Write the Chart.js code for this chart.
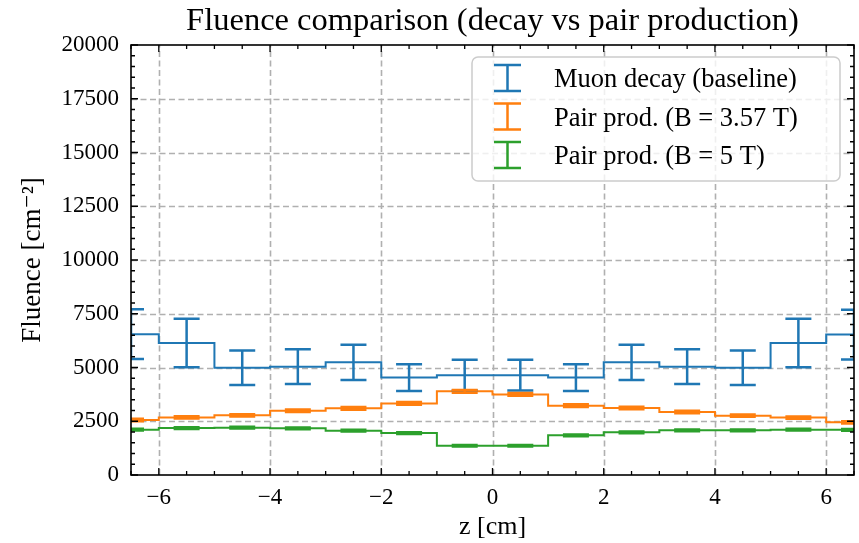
<!DOCTYPE html>
<html><head><meta charset="utf-8">
<script src="https://cdn.jsdelivr.net/npm/chart.js@4.4.1/dist/chart.umd.min.js"></script>
<style>html,body{margin:0;padding:0;background:#fff;}#c{display:block;}</style>
</head><body>
<canvas id="c" width="859" height="543"></canvas>
<script>
// ---- data ----
const binCenters = [-6.5,-5.5,-4.5,-3.5,-2.5,-1.5,-0.5,0.5,1.5,2.5,3.5,4.5,5.5,6.5];
const decay      = [6550,6140,4990,5040,5240,4530,4640,4640,4530,5240,5040,4990,6140,6530];
const decayErr   = [1160,1130,800,810,820,620,715,715,620,820,810,800,1130,1160];
const pair357    = [2560,2680,2775,2990,3100,3330,3890,3750,3225,3115,2930,2760,2670,2450];
const pair357Err = [55,55,55,60,60,60,65,65,60,60,60,55,55,55];
const pair5      = [2110,2185,2200,2170,2060,1950,1365,1365,1845,1985,2080,2080,2110,2100];
const pair5Err   = [40,40,40,40,40,40,35,35,40,40,40,40,40,40];
const seriesNames = ['Muon decay (baseline)','Pair prod. (B = 3.57 T)','Pair prod. (B = 5 T)'];
const xTicks = [-6,-4,-2,0,2,4,6];
const yTicks = [0,2500,5000,7500,10000,12500,15000,17500,20000];
const xMinorStep = 0.5, yMinorStep = 500;

const colors = ['#1f77b4','#ff7f0e','#2ca02c'];
const FONT = "'Liberation Serif', 'DejaVu Serif', serif";
const vals = [decay, pair357, pair5];
const errs = [decayErr, pair357Err, pair5Err];

const datasets = vals.map((v,k)=>({
  label: seriesNames[k],
  data: binCenters.map((x,i)=>({x:x,y:v[i]})),
  stepped: 'middle',
  borderColor: colors[k],
  borderWidth: 2,
  pointRadius: 0,
  fill: false,
  errs: errs[k]
}));

const fmtX = v => v < 0 ? '\u2212' + Math.abs(v) : String(v);

const gridPlugin = {
  id: 'gridPlugin',
  beforeDatasetsDraw(chart){
    const {ctx, chartArea:a, scales:{x,y}} = chart;
    ctx.save();
    ctx.strokeStyle = '#b0b0b0'; ctx.lineWidth = 1.6; ctx.setLineDash([6,3.5]);
    xTicks.forEach(t=>{const p=Math.round(x.getPixelForValue(t))+0.5;ctx.beginPath();ctx.moveTo(p,a.bottom);ctx.lineTo(p,a.top);ctx.stroke();});
    yTicks.forEach(t=>{const p=Math.round(y.getPixelForValue(t))+0.5;if(p<a.top+1||p>a.bottom-1)return;ctx.beginPath();ctx.moveTo(a.left,p);ctx.lineTo(a.right,p);ctx.stroke();});
    ctx.restore();
  }
};

const errPlugin = {
  id: 'errPlugin',
  afterDatasetsDraw(chart){
    const {ctx, chartArea:a, scales:{x,y}} = chart;
    ctx.save();
    ctx.beginPath(); ctx.rect(a.left,a.top,a.right-a.left,a.bottom-a.top); ctx.clip();
    chart.data.datasets.forEach(ds=>{
      ctx.strokeStyle = ds.borderColor; ctx.lineWidth = 2.5;
      ds.data.forEach((pt,i)=>{
        const px = x.getPixelForValue(pt.x);
        const t = y.getPixelForValue(pt.y + ds.errs[i]);
        const b = y.getPixelForValue(pt.y - ds.errs[i]);
        ctx.beginPath();
        ctx.moveTo(px,t); ctx.lineTo(px,b);
        ctx.moveTo(px-13,t); ctx.lineTo(px+13,t);
        ctx.moveTo(px-13,b); ctx.lineTo(px+13,b);
        ctx.stroke();
      });
    });
    ctx.restore();
  }
};

const framePlugin = {
  id: 'framePlugin',
  afterDraw(chart){
    const {ctx, chartArea:a, scales:{x,y}} = chart;
    ctx.save();
    ctx.strokeStyle = '#000'; ctx.lineWidth = 1.3;
    const xmin=x.min,xmax=x.max,ymin=y.min,ymax=y.max;
    ctx.beginPath();
    for(let v=Math.ceil(xmin/xMinorStep)*xMinorStep; v<=xmax+1e-9; v+=xMinorStep){
      const p = x.getPixelForValue(v);
      const major = xTicks.some(t=>Math.abs(t-v)<1e-6);
      const L = major?7:4;
      ctx.moveTo(p,a.bottom); ctx.lineTo(p,a.bottom-L);
      ctx.moveTo(p,a.top); ctx.lineTo(p,a.top+L);
    }
    for(let v=Math.ceil(ymin/yMinorStep)*yMinorStep; v<=ymax+1e-9; v+=yMinorStep){
      const p = y.getPixelForValue(v);
      const major = yTicks.some(t=>Math.abs(t-v)<1e-6);
      const L = major?7:4;
      ctx.moveTo(a.left,p); ctx.lineTo(a.left+L,p);
      ctx.moveTo(a.right,p); ctx.lineTo(a.right-L,p);
    }
    ctx.stroke();
    ctx.lineWidth = 1.6;
    ctx.strokeRect(a.left,a.top,a.right-a.left,a.bottom-a.top);
    // legend
    const lx=472, ly=57, lw=368, lh=124, r=6;
    ctx.beginPath();
    ctx.moveTo(lx+r,ly); ctx.arcTo(lx+lw,ly,lx+lw,ly+lh,r); ctx.arcTo(lx+lw,ly+lh,lx,ly+lh,r);
    ctx.arcTo(lx,ly+lh,lx,ly,r); ctx.arcTo(lx,ly,lx+lw,ly,r); ctx.closePath();
    ctx.fillStyle='rgba(255,255,255,0.8)'; ctx.fill();
    ctx.strokeStyle='#cccccc'; ctx.lineWidth=1.5; ctx.stroke();
    ctx.font = '26.5px ' + FONT; ctx.textBaseline='alphabetic'; ctx.textAlign='left';
    chart.data.datasets.forEach((ds,k)=>{
      const cy = 78 + k*38.5;
      ctx.strokeStyle = ds.borderColor; ctx.lineWidth = 2.5;
      ctx.beginPath();
      ctx.moveTo(507.5,cy-13); ctx.lineTo(507.5,cy+13);
      ctx.moveTo(494,cy-13); ctx.lineTo(521,cy-13);
      ctx.moveTo(494,cy+13); ctx.lineTo(521,cy+13);
      ctx.stroke();
      ctx.fillStyle='#000';
      ctx.fillText(ds.label, 554, cy+9);
    });
    ctx.restore();
  }
};

new Chart(document.getElementById('c'), {
  type: 'line',
  data: { datasets },
  options: {
    responsive: false, animation: false, devicePixelRatio: 1,
    layout: { padding: { left: 0, right: 5, top: 0, bottom: 0 } },
    plugins: {
      legend: { display: false },
      tooltip: { enabled: false },
      title: { display: true, fullSize: false, text: 'Fluence comparison (decay vs pair production)',
        color: '#000', font: { family: FONT, size: 32.5, weight: 'normal', lineHeight: 1.2 },
        padding: { top: 2, bottom: 4 } }
    },
    scales: {
      x: { type: 'linear', min: -6.5, max: 6.5,
        grid: { display: false, drawTicks: false }, border: { display: false },
        afterBuildTicks: s => { s.ticks = xTicks.map(v=>({value:v})); },
        afterFit: s => { s.height = 68; },
        ticks: { color: '#000', font: { family: FONT, size: 23 }, padding: 9, maxRotation: 0,
          callback: v => fmtX(v) },
        title: { display: true, text: 'z [cm]', color: '#000',
          font: { family: FONT, size: 26, lineHeight: 1.2 }, padding: { top: 0, bottom: 0 } }
      },
      y: { type: 'linear', min: 0, max: 20000,
        grid: { display: false, drawTicks: false }, border: { display: false },
        afterBuildTicks: s => { s.ticks = yTicks.map(v=>({value:v})); },
        afterFit: s => { s.width = 131; },
        ticks: { color: '#000', font: { family: FONT, size: 23 }, padding: 12,
          callback: v => String(v) },
        title: { display: true, text: 'Fluence [cm\u207B\u00B2]', color: '#000',
          font: { family: FONT, size: 27, lineHeight: 1.2 }, padding: { top: 17, bottom: 0 } }
      }
    }
  },
  plugins: [gridPlugin, errPlugin, framePlugin]
});
</script>
</body></html>
